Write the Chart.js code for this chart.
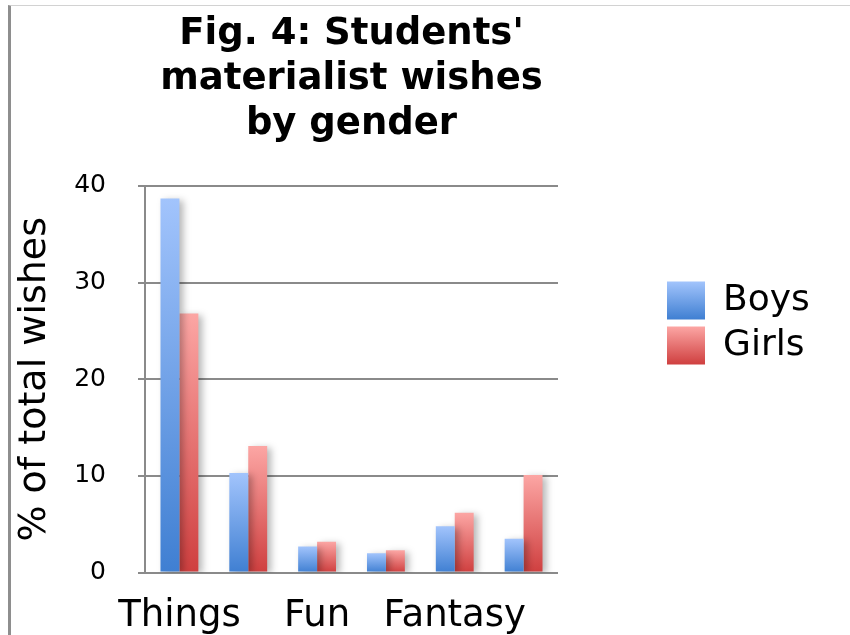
<!DOCTYPE html>
<html>
<head>
<meta charset="utf-8">
<script src="https://cdn.jsdelivr.net/npm/chart.js@4.4.0/dist/chart.umd.min.js"></script>
<style>
    html, body { margin: 0; padding: 0; background: #fff; overflow: hidden; }
    #wrap { position: relative; width: 850px; height: 661px; }
    #frame {
        position: absolute; left: 8px; top: 5px; right: 0; bottom: 0;
        border-left: 3px solid #8e8e8e; border-top: 1px solid #d2d2d2;
        pointer-events: none;
    }
</style>
</head>
<body>
<div id="wrap">
    <canvas id="wishesChart"></canvas>
    <div id="frame"></div>
</div>
<script>
const categories = ['Things', '', 'Fun', '', 'Fantasy', ''];
const boys = [38.7, 10.3, 2.7, 2.0, 4.8, 3.5];
const girls = [26.8, 13.1, 3.2, 2.3, 6.2, 10.1];
const yTicks = [0, 10, 20, 30, 40];

const titleLines = ['Fig. 4: Students\'', 'materialist wishes', 'by gender'];
const boysColors = ['#a2c4fc', '#3f7fd2'];
const girlsColors = ['#fca6a4', '#cf3f3f'];

// vertical gradient per bar, light at the top, dark at the base
function barGradient(colors) {
    return function(ctx) {
        const chart = ctx.chart;
        if (!chart.chartArea || ctx.type !== 'data') return colors[1];
        const y = chart.scales.y;
        const top = y.getPixelForValue(ctx.raw);
        const bottom = y.getPixelForValue(0);
        if (bottom - top < 1) return colors[1];
        const g = chart.ctx.createLinearGradient(0, top, 0, bottom);
        g.addColorStop(0, colors[0]);
        g.addColorStop(1, colors[1]);
        return g;
    };
}

// soft shadow behind the bars
const barShadow = {
    id: 'barShadow',
    beforeDatasetsDraw(chart) {
        const c = chart.ctx;
        c.save();
        c.shadowColor = 'rgba(0,0,0,0.28)';
        c.shadowBlur = 7;
        c.shadowOffsetX = 4;
        c.shadowOffsetY = 2;
    },
    afterDatasetsDraw(chart) {
        chart.ctx.restore();
    }
};

// wider legend box so the items sit further right
const legendWidth = {
    id: 'legendWidth',
    beforeInit(chart) {
        const fit = chart.legend.fit;
        chart.legend.fit = function() {
            fit.call(this);
            this.width = 190;
        };
    }
};

// legend boxes get the same light-to-dark gradient
const legendGradient = {
    id: 'legendGradient',
    beforeDraw(chart) {
        const legend = chart.legend;
        if (!legend || !legend.legendHitBoxes) return;
        const sets = [boysColors, girlsColors];
        legend.legendItems.forEach((item, i) => {
            const box = legend.legendHitBoxes[i];
            if (!box) return;
            const g = chart.ctx.createLinearGradient(0, box.top, 0, box.top + 38);
            g.addColorStop(0, sets[i][0]);
            g.addColorStop(1, sets[i][1]);
            item.fillStyle = g;
        });
    }
};

const gridGray = '#8a8a8a';

new Chart(document.getElementById('wishesChart'), {
    type: 'bar',
    data: {
        labels: categories,
        datasets: [
            { label: 'Boys', data: boys, backgroundColor: barGradient(boysColors), borderWidth: 0 },
            { label: 'Girls', data: girls, backgroundColor: barGradient(girlsColors), borderWidth: 0 }
        ]
    },
    options: {
        responsive: true,
        maintainAspectRatio: false,
        animation: false,
        layout: { padding: { top: -15, right: 0, bottom: 0, left: 0 } },
        datasets: {
            bar: { barPercentage: 1, categoryPercentage: 0.55 }
        },
        plugins: {
            title: {
                display: true,
                text: titleLines,
                fullSize: false,
                color: '#000',
                font: { family: 'DejaVu Sans', size: 37, weight: 'bold', lineHeight: 1.216 },
                padding: { top: 27, bottom: 39 }
            },
            legend: {
                position: 'right',
                labels: {
                    color: '#000',
                    font: { family: 'DejaVu Sans', size: 36 },
                    boxWidth: 38,
                    boxHeight: 38,
                    padding: 7
                }
            },
            tooltip: { enabled: false }
        },
        scales: {
            x: {
                grid: { display: false, drawTicks: false },
                border: { display: false },
                ticks: {
                    autoSkip: false,
                    maxRotation: 0,
                    padding: 22,
                    color: '#000',
                    font: { family: 'DejaVu Sans', size: 37 }
                }
            },
            y: {
                min: 0,
                max: 40,
                afterBuildTicks(scale) {
                    scale.ticks = yTicks.map(v => ({ value: v }));
                },
                afterFit(scale) { scale.width = 145; },
                grid: { color: gridGray, lineWidth: 2, tickLength: 7 },
                border: { display: true, color: gridGray, width: 2 },
                ticks: {
                    padding: 32,
                    color: '#000',
                    font: { family: 'DejaVu Sans', size: 25 }
                },
                title: {
                    display: true,
                    text: '% of total wishes',
                    color: '#000',
                    font: { family: 'DejaVu Sans', size: 38 },
                    padding: { top: 12, bottom: 10 }
                }
            },
            spacer: {
                type: 'linear',
                position: 'right',
                display: true,
                grid: { display: false, drawTicks: false },
                border: { display: false },
                ticks: { display: false },
                afterFit(scale) { scale.width = 102; }
            }
        }
    },
    plugins: [barShadow, legendWidth, legendGradient]
});
</script>
</body>
</html>
